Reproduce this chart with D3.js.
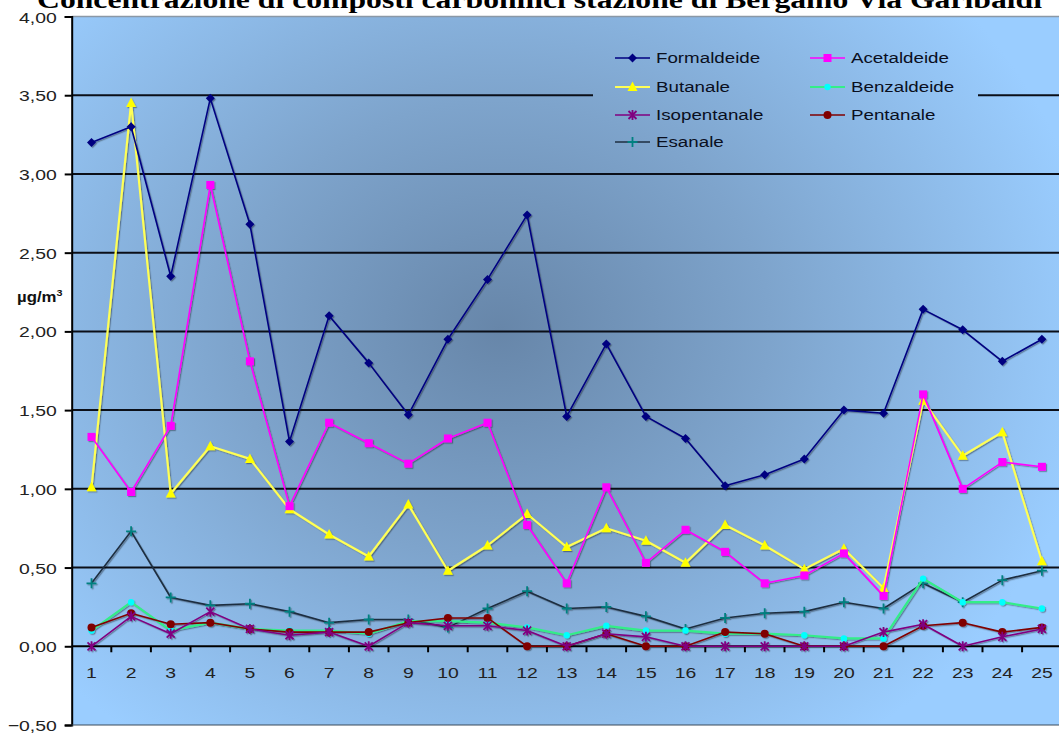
<!DOCTYPE html>
<html>
<head>
<meta charset="utf-8">
<script src="https://cdn.jsdelivr.net/npm/d3@7/dist/d3.min.js"></script>
<style>
  html, body { margin: 0; padding: 0; background: #ffffff; }
  svg { display: block; }
</style>
</head>
<body>
<svg id="chart" width="1059" height="737"></svg>
<script>
// Sampling days
const categories = ["1","2","3","4","5","6","7","8","9","10","11","12","13","14","15","16","17","18","19","20","21","22","23","24","25"];

// Concentrations (µg/m³) per compound
const formaldeide  = [3.20,3.30,2.35,3.48,2.68,1.30,2.10,1.80,1.47,1.95,2.33,2.74,1.46,1.92,1.46,1.32,1.02,1.09,1.19,1.50,1.48,2.14,2.01,1.81,1.95];
const acetaldeide  = [1.33,0.98,1.40,2.93,1.81,0.89,1.42,1.29,1.16,1.32,1.42,0.77,0.40,1.01,0.53,0.74,0.60,0.40,0.45,0.59,0.32,1.60,1.00,1.17,1.14];
const butanale     = [1.01,3.45,0.97,1.27,1.19,0.87,0.71,0.57,0.90,0.48,0.64,0.84,0.63,0.75,0.67,0.53,0.77,0.64,0.49,0.62,0.37,1.56,1.21,1.36,0.54];
const benzaldeide  = [0.10,0.28,0.10,0.15,0.11,0.10,0.10,0.08,0.16,0.16,0.15,0.12,0.07,0.13,0.10,0.10,0.08,0.08,0.07,0.05,0.05,0.43,0.28,0.28,0.24];
const isopentanale = [0.00,0.19,0.08,0.22,0.11,0.07,0.09,0.00,0.15,0.13,0.13,0.10,0.00,0.08,0.06,0.00,0.00,0.00,0.00,0.00,0.09,0.14,0.00,0.06,0.11];
const pentanale    = [0.12,0.21,0.14,0.15,0.11,0.09,0.09,0.09,0.15,0.18,0.18,0.00,0.00,0.08,0.00,0.00,0.09,0.08,0.00,0.00,0.00,0.13,0.15,0.09,0.12];
const esanale      = [0.40,0.73,0.31,0.26,0.27,0.22,0.15,0.17,0.17,0.12,0.24,0.35,0.24,0.25,0.19,0.11,0.18,0.21,0.22,0.28,0.24,0.40,0.28,0.42,0.48];

const yTicks = [-0.5,0,0.5,1,1.5,2,2.5,3,3.5,4];
const titleText = "Concentrazione di composti carbonilici stazione di Bergamo Via Garibaldi";

// Series styling table
const series = [
  {name:"Formaldeide",  values:formaldeide,  line:"#000080", marker:"#000080", shape:"diamond",  width:1.6},
  {name:"Acetaldeide",  values:acetaldeide,  line:"#FF00FF", marker:"#FF00FF", shape:"square",   width:1.6},
  {name:"Butanale",     values:butanale,     line:"#FFFF55", marker:"#FFFF00", shape:"triangle", width:2.2},
  {name:"Benzaldeide",  values:benzaldeide,  line:"#33EE88", marker:"#00FFFF", shape:"circleS",  width:2.2},
  {name:"Isopentanale", values:isopentanale, line:"#800080", marker:"#800080", shape:"star",     width:1.6},
  {name:"Pentanale",    values:pentanale,    line:"#800000", marker:"#800000", shape:"circle",   width:1.6},
  {name:"Esanale",      values:esanale,      line:"#1E2E40", marker:"#008080", shape:"plus",     width:1.6}
];
// Draw order (later on top)
const drawOrder = ["Esanale","Benzaldeide","Pentanale","Isopentanale","Butanale","Acetaldeide","Formaldeide"];

const svg = d3.select("#chart");
const W = 1059, H = 737;
const plot = {left: 71.7, top: 16.5, right: 1061.7, bottom: 725};

const x = d3.scaleBand().domain(categories).range([plot.left, plot.right]).paddingInner(0).paddingOuter(0);
const y = d3.scaleLinear().domain([-0.5, 4]).range([plot.bottom, plot.top]);
const cx = c => x(c) + x.bandwidth() / 2;

const defs = svg.append("defs");
const grad = defs.append("radialGradient")
  .attr("id", "bg").attr("gradientUnits", "userSpaceOnUse")
  .attr("cx", 500).attr("cy", 330).attr("r", 600)
  .attr("gradientTransform", "translate(500,330) scale(1,0.85) translate(-500,-330)");
grad.append("stop").attr("offset", "0").attr("stop-color", "#6786A9");
grad.append("stop").attr("offset", "0.45").attr("stop-color", "#7EA4CC");
grad.append("stop").attr("offset", "1").attr("stop-color", "#9ACDFF");

const shadow = defs.append("filter").attr("id", "shadow").attr("x", "-5%").attr("y", "-5%").attr("width", "110%").attr("height", "110%");
shadow.append("feDropShadow").attr("dx", 1.2).attr("dy", 1.2).attr("stdDeviation", 0.6)
  .attr("flood-color", "#000").attr("flood-opacity", 0.35);

// Title
svg.append("text")
  .attr("x", 37).attr("y", 8)
  .attr("font-family", "'Liberation Serif', 'Times New Roman', serif")
  .attr("font-weight", "bold").attr("font-size", 25)
  .attr("textLength", 1005).attr("lengthAdjust", "spacingAndGlyphs")
  .attr("fill", "#000")
  .text(titleText);

// Plot background
svg.append("rect")
  .attr("x", plot.left).attr("y", plot.top)
  .attr("width", plot.right - plot.left).attr("height", plot.bottom - plot.top)
  .attr("fill", "url(#bg)");
svg.append("line")
  .attr("x1", plot.left).attr("x2", W).attr("y1", plot.top).attr("y2", plot.top)
  .attr("stroke", "#8a98a6").attr("stroke-width", 1.5);

// Horizontal gridlines
svg.append("g").selectAll("line")
  .data(yTicks.filter(v => v > 0 && v < 4))
  .join("line")
  .attr("x1", plot.left).attr("x2", plot.right)
  .attr("y1", d => y(d)).attr("y2", d => y(d))
  .attr("stroke", "#0b0f18").attr("stroke-width", 2);

// Y axis with outward ticks and comma decimals
const fmt = d3.format(".2f");
const yAxis = svg.append("g").attr("transform", `translate(${plot.left},0)`)
  .call(d3.axisLeft(y).tickValues(yTicks).tickSize(7).tickFormat(d => fmt(d).replace(".", ",")));
yAxis.select(".domain").attr("stroke", "#000").attr("stroke-width", 2);
yAxis.selectAll(".tick line").attr("stroke", "#000").attr("stroke-width", 2);
yAxis.selectAll(".tick text").remove();
yAxis.selectAll(".tick").append("g")
  .attr("transform", "translate(-15,0) scale(1.25,1)")
  .append("text")
  .attr("text-anchor", "end").attr("dy", "0.36em")
  .attr("font-family", "'Liberation Sans', Arial, sans-serif").attr("font-size", 15.5)
  .attr("fill", "#222")
  .text(d => fmt(d).replace(".", ","));

// Unit label
const unit = svg.append("g").attr("transform", "translate(17,302) scale(1.2,1)")
  .append("text")
  .attr("font-family", "'Liberation Sans', Arial, sans-serif").attr("font-weight", "bold")
  .attr("font-size", 14).attr("fill", "#111");
unit.append("tspan").text("µg/m");
unit.append("tspan").attr("font-size", 9).attr("dy", -6).text("3");

// X axis on the zero line, ticks at category boundaries
const xAxisG = svg.append("g").attr("transform", `translate(0,${y(0)})`);
xAxisG.append("line").attr("x1", plot.left).attr("x2", plot.right).attr("y1", 0).attr("y2", 0)
  .attr("stroke", "#000").attr("stroke-width", 2);
xAxisG.selectAll("line.tk")
  .data(categories.slice(1))
  .join("line").attr("class", "tk")
  .attr("x1", d => x(d)).attr("x2", d => x(d)).attr("y1", 0).attr("y2", 6)
  .attr("stroke", "#000").attr("stroke-width", 2);
xAxisG.selectAll("g.lbl")
  .data(categories)
  .join("g").attr("class", "lbl")
  .attr("transform", d => `translate(${cx(d)},26) scale(1.25,1)`)
  .append("text")
  .attr("text-anchor", "middle").attr("dy", "0.36em")
  .attr("font-family", "'Liberation Sans', Arial, sans-serif").attr("font-size", 15.5)
  .attr("fill", "#222")
  .text(d => d);

// Bottom edge of plot
svg.append("line").attr("x1", plot.left).attr("x2", W).attr("y1", plot.bottom).attr("y2", plot.bottom)
  .attr("stroke", "#3a4a5a").attr("stroke-width", 1);

// Marker drawing
function drawMarker(sel, shape, color) {
  sel.each(function() {
    const g = d3.select(this);
    switch (shape) {
      case "diamond":
        g.append("path").attr("d", "M0,-4.5L4.5,0L0,4.5L-4.5,0Z").attr("fill", color); break;
      case "square":
        g.append("rect").attr("x", -4).attr("y", -4).attr("width", 8).attr("height", 8).attr("fill", color); break;
      case "triangle":
        g.append("path").attr("d", "M0,-5.5L5,4L-5,4Z").attr("fill", color); break;
      case "circle":
        g.append("circle").attr("r", 4).attr("fill", color); break;
      case "circleS":
        g.append("circle").attr("r", 3.2).attr("fill", color); break;
      case "star":
        g.append("path").attr("d", "M-4,-4L4,4M-4,4L4,-4M0,-5L0,5").attr("stroke", color).attr("stroke-width", 1.8).attr("fill", "none"); break;
      case "plus":
        g.append("path").attr("d", "M-5,0L5,0M0,-5L0,5").attr("stroke", color).attr("stroke-width", 1.8).attr("fill", "none"); break;
    }
  });
}

const line = d3.line().x((d, i) => cx(categories[i])).y(d => y(d));
const seriesG = svg.append("g").attr("filter", "url(#shadow)");
drawOrder.forEach(nm => {
  const s = series.find(t => t.name === nm);
  const g = seriesG.append("g");
  g.append("path").datum(s.values)
    .attr("d", line).attr("fill", "none")
    .attr("stroke", s.line).attr("stroke-width", s.width).attr("stroke-linejoin", "round");
  g.selectAll("g.m").data(s.values).join("g").attr("class", "m")
    .attr("transform", (d, i) => `translate(${cx(categories[i])},${y(d)})`)
    .call(sel => drawMarker(sel, s.shape, s.marker));
});

// Legend
const legend = svg.append("g");
legend.append("rect").attr("x", 593).attr("y", 40).attr("width", 385).attr("height", 115).attr("fill", "url(#bg)");
const legendPos = [
  {name:"Formaldeide",  x:615, y:58},
  {name:"Acetaldeide",  x:810, y:58},
  {name:"Butanale",     x:615, y:87},
  {name:"Benzaldeide",  x:810, y:87},
  {name:"Isopentanale", x:615, y:115},
  {name:"Pentanale",    x:810, y:115},
  {name:"Esanale",      x:615, y:142}
];
legendPos.forEach(p => {
  const s = series.find(t => t.name === p.name);
  const g = legend.append("g").attr("transform", `translate(${p.x},${p.y})`);
  g.append("line").attr("x1", 0).attr("x2", 35).attr("y1", 0).attr("y2", 0)
    .attr("stroke", s.line).attr("stroke-width", s.width);
  g.append("g").attr("transform", "translate(17.5,0)").call(sel => drawMarker(sel, s.shape, s.marker));
  g.append("g").attr("transform", "translate(41,0) scale(1.25,1)")
    .append("text").attr("dy", "0.36em")
    .attr("font-family", "'Liberation Sans', Arial, sans-serif").attr("font-size", 15)
    .attr("fill", "#0a0f1e")
    .text(s.name);
});
</script>
</body>
</html>
